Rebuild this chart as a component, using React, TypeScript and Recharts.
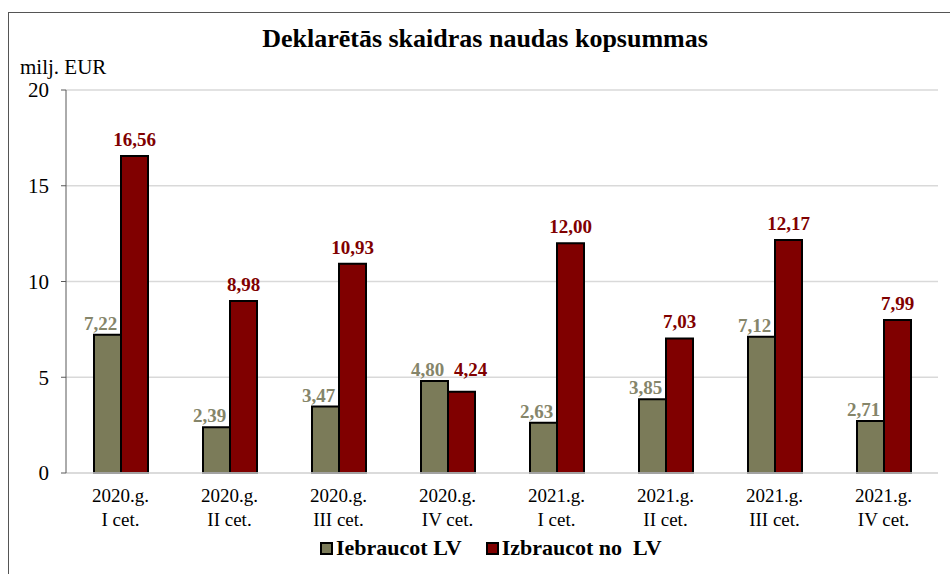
import React from 'react';
import { BarChart, Bar, XAxis, YAxis, CartesianGrid, LabelList } from 'recharts';

// Quarters (two-line category labels)
const years = ['2020.g.', '2020.g.', '2020.g.', '2020.g.', '2021.g.', '2021.g.', '2021.g.', '2021.g.'];
const quarters = ['I cet.', 'II cet.', 'III cet.', 'IV cet.', 'I cet.', 'II cet.', 'III cet.', 'IV cet.'];

// milj. EUR
const iebraucot = [7.22, 2.39, 3.47, 4.8, 2.63, 3.85, 7.12, 2.71];
const izbraucot = [16.56, 8.98, 10.93, 4.24, 12.0, 7.03, 12.17, 7.99];

const yTicks = [0, 5, 10, 15, 20];

const OLIVE = '#7b7b59';
const OLIVE_TEXT = '#85856a';
const DARK_RED = '#800000';
const FONT = '"Liberation Serif", "Times New Roman", serif';

const data = years.map((y, i) => ({
  name: `${y}|${quarters[i]}`,
  iebraucot: iebraucot[i],
  izbraucot: izbraucot[i],
}));

const fmt = (v: any) => Number(v).toFixed(2).replace('.', ',');

const CategoryTick = (props: any) => {
  const { x, y, payload } = props;
  const [l1, l2] = String(payload.value).split('|');
  return (
    <text x={x} y={y} textAnchor="middle" fontFamily={FONT} fontSize={19} fill="#000">
      <tspan x={x} dy={21}>{l1}</tspan>
      <tspan x={x} dy={24}>{l2}</tspan>
    </text>
  );
};

// red labels: pushed right and up where the olive label would collide (4,80 / 4,24)
const RedLabel = (props: any) => {
  const { x, y, width, value, index } = props;
  const clash = iebraucot[index] > izbraucot[index];
  const cx = x + width / 2 + (clash ? 9 : 0);
  const cy = clash ? y - 16 : y - 10;
  return (
    <text x={cx} y={cy} textAnchor="middle" fontFamily={FONT} fontSize={19} fontWeight="bold" fill={DARK_RED}>
      {fmt(value)}
    </text>
  );
};

export default function App() {
  return (
    <div style={{ position: 'fixed', left: 0, top: 0, width: 950, height: 574, overflow: 'hidden', background: '#fff' }}>
      <div
        style={{
          position: 'absolute',
          left: 8,
          top: 12,
          width: 980,
          height: 600,
          border: '1.5px solid #555',
          boxSizing: 'border-box',
        }}
      />
      <div
        style={{
          position: 'absolute',
          left: 0,
          top: 23,
          width: 970,
          textAlign: 'center',
          fontFamily: FONT,
          fontWeight: 'bold',
          fontSize: 26,
          lineHeight: '32px',
          color: '#000',
        }}
      >
        Deklarētās skaidras naudas kopsummas
      </div>
      <div style={{ position: 'absolute', left: 20, top: 54, fontFamily: FONT, fontSize: 21, lineHeight: '26px', color: '#000' }}>
        milj. EUR
      </div>
      <div style={{ position: 'absolute', left: 0, top: 0 }}>
        <BarChart
          width={950}
          height={574}
          data={data}
          margin={{ top: 90, right: 12, left: 0, bottom: 51 }}
          barGap={0}
          barCategoryGap="25%"
        >
          <CartesianGrid vertical={false} stroke="#d9d9d9" strokeWidth={1.5} />
          <XAxis
            dataKey="name"
            tick={<CategoryTick />}
            tickLine={false}
            axisLine={{ stroke: '#d9d9d9', strokeWidth: 1.5 }}
            interval={0}
            height={50}
          />
          <YAxis
            domain={[0, 20]}
            ticks={yTicks}
            width={66}
            tickLine={{ stroke: '#595959' }}
            tickSize={5}
            axisLine={{ stroke: '#595959' }}
            tick={{ fontFamily: FONT, fontSize: 21, fill: '#000' }}
            tickMargin={12}
          />
          <Bar dataKey="iebraucot" fill={OLIVE} stroke="#000" strokeWidth={2} barSize={27} isAnimationActive={false}>
            <LabelList
              dataKey="iebraucot"
              position="top"
              offset={5}
              dx={-7}
              formatter={fmt}
              style={{ fontFamily: FONT, fontSize: 19, fontWeight: 'bold', fill: OLIVE_TEXT }}
            />
          </Bar>
          <Bar dataKey="izbraucot" fill={DARK_RED} stroke="#000" strokeWidth={2} barSize={27} isAnimationActive={false}>
            <LabelList dataKey="izbraucot" content={<RedLabel />} />
          </Bar>
        </BarChart>
      </div>
      <div
        style={{
          position: 'absolute',
          left: 320,
          top: 535,
          display: 'flex',
          alignItems: 'center',
          fontFamily: FONT,
          fontWeight: 'bold',
          fontSize: 22,
          lineHeight: '26px',
          color: '#000',
        }}
      >
        <span style={{ width: 9, height: 9, background: OLIVE, border: '2px solid #000', marginRight: 3 }} />
        <span style={{ marginRight: 24 }}>Iebraucot LV</span>
        <span style={{ width: 9, height: 9, background: DARK_RED, border: '2px solid #000', marginRight: 3 }} />
        <span style={{ whiteSpace: 'pre' }}>Izbraucot no  LV</span>
      </div>
    </div>
  );
}
